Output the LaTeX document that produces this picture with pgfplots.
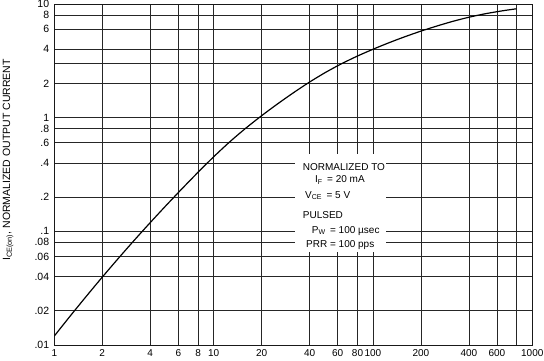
\documentclass[border=0pt]{standalone}
\usepackage{fontspec}
\setmainfont{Liberation Sans}
\usepackage{pgfplots}
\pgfplotsset{compat=1.18}
\begin{document}
\fontsize{10.5}{12}\selectfont
\begin{tikzpicture}
\begin{axis}[
  scale only axis,
  width=478pt, height=341pt,
  xmode=log, ymode=log,
  xmin=1, xmax=1000, ymin=0.01, ymax=10,
  xtick={1,2,4,6,8,10,20,40,60,80,100,200,400,600,1000},
  xticklabels={1,2,4,6,8,10,20,40,60,80,100,200,400,600,1000},
  minor xtick={800},
  ytick={0.01,0.02,0.04,0.06,0.08,0.1,0.2,0.4,0.6,0.8,1,2,4,6,8,10},
  yticklabels={.01,.02,.04,.06,.08,.1,.2,.4,.6,.8,1,2,4,6,8,10},
  minor ytick={3},
  grid=both,
  major grid style={black!85, line width=0.8pt},
  minor grid style={black!85, line width=0.8pt},
  axis line style={black!90, line width=0.85pt},
  major tick length=0pt, minor tick length=0pt,
  /pgf/number format/assume math mode=true,
  yticklabel style={inner sep=0pt, xshift=-5pt, font=\fontsize{10.5}{12}\selectfont},
  xticklabel style={inner sep=0pt, yshift=-4.5pt, font=\fontsize{10}{12}\selectfont},
  every axis y label/.style={at={(axis description cs:-0.108,0.5425)}, rotate=90, anchor=north, inner sep=0pt, font=\fontsize{10.5}{12}\selectfont},
  ylabel={I\textsubscript{CE(on)}, NORMALIZED OUTPUT CURRENT},
]
\addplot[black, line width=1.2pt, smooth] coordinates {
  (1,0.0120) (1.259,0.0180) (1.585,0.02674) (1.995,0.03937) (2.512,0.05742)
  (3.162,0.0829) (3.981,0.1185) (5.012,0.1679) (6.31,0.2358) (7.943,0.3285)
  (10,0.4523) (12.59,0.6108) (15.85,0.8043) (19.95,1.0373) (25.12,1.3182)
  (31.62,1.6535) (39.81,2.0484) (50.12,2.4912) (63.1,2.9675) (79.43,3.4704)
  (100,3.9988) (125.9,4.5603) (158.5,5.151) (199.5,5.766) (251.2,6.394)
  (316.2,7.030) (398.1,7.637) (501.2,8.183) (631,8.657) (794.3,9.078)
};
\fill[white] (rel axis cs:0.5036,0.2727) rectangle (rel axis cs:0.6940,0.5601);
\begin{scope}[every node/.style={anchor=base west, inner sep=0pt, font=\fontsize{10}{12}\selectfont}]
\node at (rel axis cs:0.5197,0.5132) {NORMALIZED TO};
\node at (rel axis cs:0.5454,0.4751) {I\textsubscript{F} \,= 20 mA};
\node at (rel axis cs:0.5245,0.4311) {V\textsubscript{CE} \,= 5 V};
\node at (rel axis cs:0.5197,0.3724) {PULSED};
\node at (rel axis cs:0.5385,0.3284) {P\textsubscript{W} \,= 100 µsec};
\node at (rel axis cs:0.5266,0.2874) {PRR = 100 pps};
\end{scope}
\end{axis}
\pgfresetboundingbox
\useasboundingbox ([xshift=-54.3pt,yshift=-15pt]current axis.south west) rectangle ([xshift=11.7pt,yshift=4pt]current axis.north east);
\end{tikzpicture}
\end{document}
